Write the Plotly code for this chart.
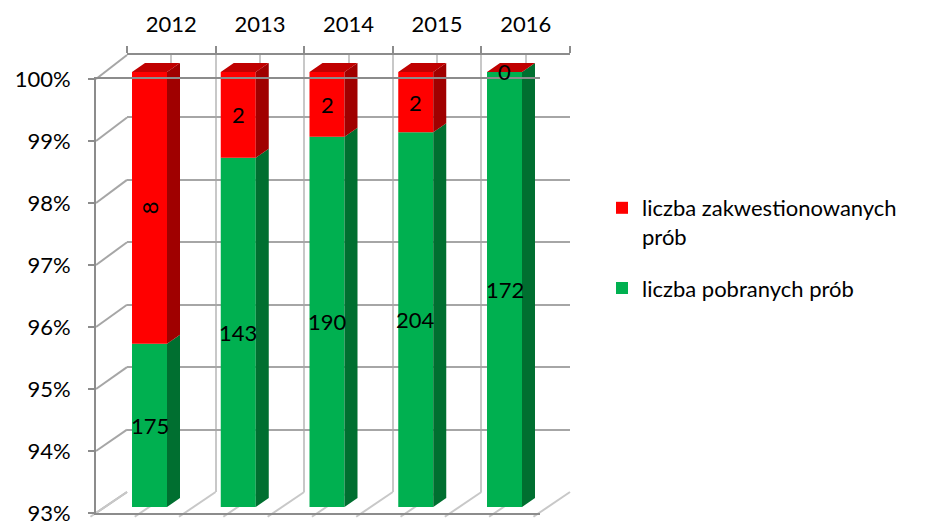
import plotly.graph_objects as go

# ---------------- data ----------------
years = ["2012", "2013", "2014", "2015", "2016"]
pobrane = [175, 143, 190, 204, 172]          # liczba pobranych prób
zakwest = [8, 2, 2, 2, 0]                    # liczba zakwestionowanych prób
y_ticks = [93, 94, 95, 96, 97, 98, 99, 100]
y_ticktext = ["93%", "94%", "95%", "96%", "97%", "98%", "99%", "100%"]
name_green = "liczba pobranych prób"
name_red = "liczba zakwestionowanych<br>prób"

totals = [a + b for a, b in zip(pobrane, zakwest)]
green_pct = [100.0 * a / t for a, t in zip(pobrane, totals)]
red_pct = [100.0 * b / t for b, t in zip(zakwest, totals)]

# ---------------- style / geometry ----------------
W, H = 928, 524
FONT = "Lato"
C_GREEN, C_GREEN_SIDE = "#00B050", "#006F30"
C_RED, C_RED_SIDE, C_RED_TOP = "#FF0000", "#A00000", "#C00000"
C_AXIS, C_GRID, C_GRID_LIGHT = "#8C8C8C", "#A6A6A6", "#C8C8C8"

BACK = dict(x0=127, x1=570, top=55, bot=492)
FRONT = dict(x0=96, x1=540, top=79, bot=513)
BAR_C0, BAR_PITCH, BAR_TOP, BAR_BOT = 149.5, 88.75, 72, 507
FACE_PX, SIDE_PX, DEPTH_PX = 35, 13, 9
YMIN, YMAX = y_ticks[0], y_ticks[-1]
Y2_TOP = YMAX + 0.3
red_label_angle = [-90, 0, 0, 0, 0]

def fx(p):
    return p / W

def fy(p):
    return 1 - p / H

n = len(years)
idx = list(range(n))
ppu = (BAR_BOT - BAR_TOP) / (YMAX - YMIN)
bar_w = FACE_PX / BAR_PITCH
dxu = SIDE_PX / BAR_PITCH
dyu = DEPTH_PX / ppu

fig = go.Figure()

fig.add_trace(go.Scatter(x=[None], y=[None], xaxis="x", yaxis="y",
                         showlegend=False, hoverinfo="skip"))

fig.add_trace(go.Bar(x=idx, y=green_pct, base=[0] * n, width=bar_w,
                     marker=dict(color=C_GREEN, line=dict(width=0)),
                     name=name_green, legendgroup="g", legendrank=2,
                     xaxis="x2", yaxis="y2", hoverinfo="skip"))
fig.add_trace(go.Bar(x=idx, y=red_pct, base=green_pct, width=bar_w,
                     marker=dict(color=C_RED, line=dict(width=0)),
                     name=name_red, legendgroup="r", legendrank=1,
                     xaxis="x2", yaxis="y2", hoverinfo="skip"))

def side_poly(lows, highs):
    xs, ys = [], []
    for i, (lo, hi) in enumerate(zip(lows, highs)):
        lo = max(lo, YMIN)
        if hi <= lo:
            continue
        xr = i + bar_w / 2
        xs += [xr, xr, xr + dxu, xr + dxu, xr, None]
        ys += [lo, hi, hi + dyu, lo + dyu, lo, None]
    return xs, ys

gx, gy = side_poly([0] * n, green_pct)
tops = [g + r for g, r in zip(green_pct, red_pct)]
rx, ry = side_poly(green_pct, tops)
tx, ty = [], []
for i, t in enumerate(tops):
    xl, xr = i - bar_w / 2, i + bar_w / 2
    tx += [xl, xr, xr + dxu, xl + dxu, xl, None]
    ty += [t, t, t + dyu, t + dyu, t, None]

for xs, ys, col in [(gx, gy, C_GREEN_SIDE), (rx, ry, C_RED_SIDE), (tx, ty, C_RED_TOP)]:
    fig.add_trace(go.Scatter(x=xs, y=ys, mode="lines", fill="toself",
                             fillcolor=col, line=dict(width=0, color=col),
                             xaxis="x2", yaxis="y2", showlegend=False,
                             hoverinfo="skip"))

fig.add_trace(go.Scatter(x=[None], y=[None], xaxis="x3", yaxis="y3",
                         showlegend=False, hoverinfo="skip"))

annotations = []
for i in idx:
    g, r = green_pct[i], red_pct[i]
    annotations.append(dict(x=i, y=(max(YMIN, 0) + g) / 2, xref="x2", yref="y2",
                            text=str(pobrane[i]), showarrow=False,
                            font=dict(family=FONT, size=22, color="#000")))
    annotations.append(dict(x=i, y=(g + g + r) / 2, xref="x2", yref="y2",
                            text=str(zakwest[i]), showarrow=False,
                            textangle=red_label_angle[i],
                            font=dict(family=FONT, size=22, color="#000")))

shapes = []
def back_y(v):
    return BACK["bot"] - (v - YMIN) * (BACK["bot"] - BACK["top"]) / (YMAX - YMIN)

def front_y(v):
    return FRONT["bot"] - (v - YMIN) * (FRONT["bot"] - FRONT["top"]) / (YMAX - YMIN)

for v in y_ticks:
    shapes.append(dict(type="line", xref="paper", yref="paper", layer="below",
                       x0=fx(FRONT["x0"]), y0=fy(front_y(v)),
                       x1=fx(BACK["x0"]), y1=fy(back_y(v)),
                       line=dict(color=C_GRID, width=2)))

back_pitch = (BACK["x1"] - BACK["x0"]) / n
ddx = FRONT["x0"] - BACK["x0"]
ddy = FRONT["bot"] - BACK["bot"]
for k in range(2 * n + 1):
    xb = BACK["x0"] + k * back_pitch / 2
    shapes.append(dict(type="line", xref="paper", yref="paper", layer="below",
                       x0=fx(xb), y0=fy(BACK["bot"]),
                       x1=fx(xb + ddx * 1.18), y1=fy(BACK["bot"] + ddy * 1.18),
                       line=dict(color=C_GRID_LIGHT, width=2)))

tickfont = dict(family=FONT, size=22, color="#000")

fig.update_layout(
    width=W, height=H,
    margin=dict(l=0, r=0, t=0, b=0, pad=0, autoexpand=False),
    paper_bgcolor="white", plot_bgcolor="rgba(0,0,0,0)",
    barmode="overlay",
    showlegend=True,
    legend=dict(x=fx(602), y=fy(187), xanchor="left", yanchor="top",
                font=dict(family=FONT, size=22, color="#000"),
                traceorder="grouped", tracegroupgap=20, valign="top",
                bgcolor="rgba(0,0,0,0)"),
    annotations=annotations,
    shapes=shapes,
    xaxis=dict(domain=[fx(BACK["x0"]), fx(BACK["x1"])], range=[-0.5, n - 0.5],
               anchor="y", side="top", tickvals=idx, ticktext=years,
               ticks="", tickfont=tickfont, ticklabelstandoff=12,
               showgrid=True, gridcolor=C_GRID_LIGHT, gridwidth=2,
               minor=dict(tickvals=[k - 0.5 for k in range(n + 1)], ticks="outside",
                          ticklen=7, tickcolor=C_AXIS, tickwidth=2,
                          showgrid=True, gridcolor=C_GRID_LIGHT, gridwidth=2),
               showline=True, linecolor=C_AXIS, linewidth=2, zeroline=False,
               automargin=False, fixedrange=True),
    yaxis=dict(domain=[fy(BACK["bot"]), fy(BACK["top"])], range=[YMIN, YMAX],
               anchor="x", tickvals=y_ticks, showticklabels=False, ticks="",
               showgrid=True, gridcolor=C_GRID, gridwidth=2, zeroline=False,
               showline=False, automargin=False, fixedrange=True),
    xaxis2=dict(domain=[fx(BAR_C0 - 0.5 * BAR_PITCH), fx(BAR_C0 + (n - 0.5) * BAR_PITCH)],
                range=[-0.5, n - 0.5], anchor="y2", visible=False,
                automargin=False, fixedrange=True),
    yaxis2=dict(domain=[fy(BAR_BOT), fy(BAR_TOP - (Y2_TOP - YMAX) * ppu)],
                range=[YMIN, Y2_TOP], anchor="x2", visible=False,
                automargin=False, fixedrange=True),
    xaxis3=dict(domain=[fx(FRONT["x0"]), fx(FRONT["x1"])], range=[0, 1], anchor="y3",
                showline=True, mirror=True, linecolor=C_AXIS, linewidth=2,
                ticks="", showticklabels=False, showgrid=False, zeroline=False,
                automargin=False, fixedrange=True),
    yaxis3=dict(domain=[fy(FRONT["bot"]), fy(FRONT["top"])], range=[YMIN, YMAX],
                anchor="x3", tickvals=y_ticks, ticktext=y_ticktext, tickfont=tickfont,
                ticks="outside", ticklen=6, tickwidth=2, tickcolor=C_AXIS,
                ticklabelstandoff=13, ticklabeloverflow="allow",
                showline=True, linecolor=C_AXIS, linewidth=2, showgrid=False,
                zeroline=False, automargin=False, fixedrange=True),
)

fig.write_html("out.html", config={"displayModeBar": False},
               post_script="document.body.style.margin='0px';")
